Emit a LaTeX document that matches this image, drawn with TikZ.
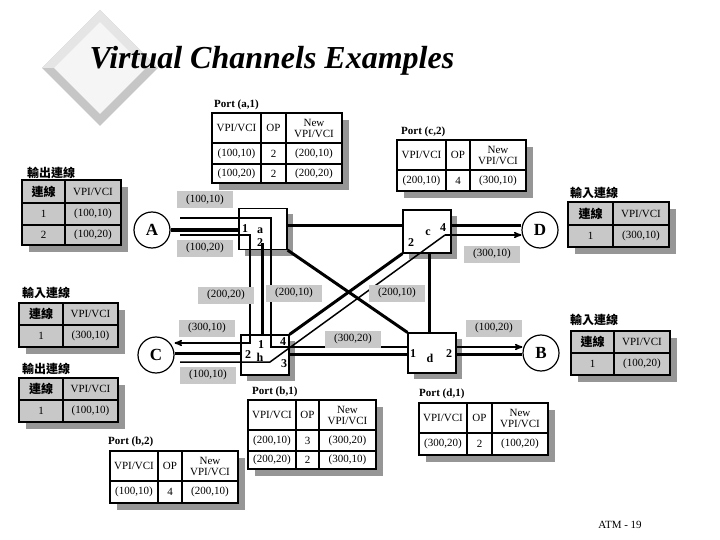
\documentclass[tikz,border=0pt]{standalone}
\usepackage{fontspec}
\setmainfont{Liberation Serif}
\newfontfamily\cjk{Noto Sans CJK TC}
\usepackage{tikz}
\usetikzlibrary{arrows}
\usetikzlibrary{calc}
\usetikzlibrary{positioning}
\definecolor{lgray}{RGB}{200,200,200}
\definecolor{sgray}{RGB}{150,150,150}
\tikzstyle{every node}+=[inner sep=0pt]
\tikzstyle{switch} = [rectangle, draw, line width=1.2pt, fill=white, minimum width=48pt, minimum height=41pt]
\tikzstyle{host} = [circle, draw, line width=1.2pt, fill=white, minimum size=36pt, font=\fontsize{17}{17}\selectfont\bfseries]
\tikzstyle{tag} = [fill=lgray, minimum width=56pt, minimum height=17pt, font=\fontsize{11}{12}\selectfont]
\tikzstyle{port} = [font=\fontsize{12}{12}\selectfont\bfseries]
\tikzstyle{heavy} = [draw, line width=3pt]
\tikzstyle{light} = [draw, line width=1.5pt]
\tikzstyle{line} = [draw, line width=1.5pt, -stealth']
\tikzstyle{celltxt} = [font=\fontsize{11}{11}\selectfont, align=center]
\tikzstyle{title} = [font=\fontsize{11}{12}\selectfont\bfseries, anchor=south west]
\tikzstyle{ctitle} = [font=\fontsize{12}{12}\selectfont\cjk\bfseries, anchor=south west]
% one table cell: [fill] x1 y1 x2 y2 name text
\newcommand{\tcell}[7][white]{\draw[line width=1.5pt, fill=#1] (#2,#3) rectangle (#4,#5);
  \node[celltxt] (#6) at ($(#2,#3)!0.5!(#4,#5)$) {#7};}
\newcommand{\tshade}[4]{\fill[sgray] (#1+7,#2+7) rectangle (#3+7,#4+7);}
\newcommand{\hd}{\cjk\bfseries\fontsize{12}{12}\selectfont 連線}
\begin{document}
\begin{tikzpicture}[x=1pt, y=-1pt]
  \useasboundingbox (0,0) rectangle (720,540);
  % Logo and title
  \fill[gray!45] (100,10) -- (158,68) -- (100,126) -- (42,68) -- cycle;
  \fill[gray!20] (100,10) -- (158,68) -- (146,68) -- (100,22) -- (54,68) -- (42,68) -- cycle;
  \fill[gray!8] (100,22) -- (146,68) -- (100,114) -- (54,68) -- cycle;
  \node[font=\fontsize{32}{34}\selectfont\bfseries\itshape] (head) at (272,61) {Virtual Channels Examples};
  % Switches and hosts
  \fill[sgray] (245,214) rectangle (293,256);
  \fill[sgray] (409,216) rectangle (457,259);
  \fill[sgray] (247,341) rectangle (295,381);
  \fill[sgray] (414,339) rectangle (462,379);
  \node[switch] (a) at (263,229) {};
  \node[switch, minimum height=43pt] (c) at (427,231.5) {};
  \node[switch, minimum height=40pt] (b) at (265,355) {};
  \node[switch, minimum height=40pt] (d) at (432,353) {};
  \node[host] (A) at (152,230) {A};
  \node[host] (D) at (540,230) {D};
  \node[host] (C) at (156,355) {C};
  \node[host] (B) at (541,353) {B};
  % Heavy links
  \path[heavy] (A.east) -- (A.east -| a.west);
  \path[heavy] (a.east |- 0,226) -- (c.west |- 0,226);
  \path[heavy] (c.east |- 0,226) -- (D.west |- 0,226);
  \path[heavy] (a.south east) -- (d.north west);
  \path[heavy] (c.south west) -- (b.north east);
  \path[heavy] (262,243) -- (262,335);
  \path[heavy] (429,253) -- (429,333);
  \path[heavy] (C.east |- 0,353) -- (b.west |- 0,353);
  \path[heavy] (b.east |- 0,354) -- (d.west |- 0,354);
  \path[heavy] (d.east |- 0,354) -- (B.west |- 0,354);
  % Virtual channels
  \path[light] (180,218) -- (271,218) -- (271,347) -- (d.west |- 0,347);
  \path[line] (d.east |- 0,347) -- (B.west |- 0,347);
  \path[line] (180,235) -- (250,235) -- (250,343) -- (C.east |- 0,343);
  \path[light] (180,362) -- (270,362) -- (445,235);
  \path[line] (445,235) -- (D.west |- 0,235);
  % Port numbers
  \node[port] (a1) at (245,229) {1};
  \node[port] (an) at (260,231) {a};
  \node[port] (a2) at (260,243) {2};
  \node[port] (cn) at (428,233) {c};
  \node[port] (c4) at (443,228) {4};
  \node[port] (c2) at (411,243) {2};
  \node[port] (b1) at (261,345) {1};
  \node[port] (b4) at (283,342) {4};
  \node[port] (b2) at (248,355) {2};
  \node[port] (bn) at (260,357) {h};
  \node[port] (b3) at (284,364) {3};
  \node[port] (d1) at (413,354) {1};
  \node[port] (dn) at (430,358) {d};
  \node[port] (d2) at (449,354) {2};
  % Channel labels
  \node[tag] (t1) at (205,200) {(100,10)};
  \node[tag] (t2) at (205,248) {(100,20)};
  \node[tag] (t3) at (226,295) {(200,20)};
  \node[tag] (t4) at (294,293) {(200,10)};
  \node[tag] (t5) at (397,293) {(200,10)};
  \node[tag] (t6) at (207,328) {(300,10)};
  \node[tag] (t7) at (208,375) {(100,10)};
  \node[tag] (t8) at (353,339) {(300,20)};
  \node[tag] (t9) at (492,254) {(300,10)};
  \node[tag] (t10) at (494,328) {(100,20)};
  % Port (a,1)
  \node[title] (pa) at (214,110) {Port (a,1)};
  \tshade{212}{113}{342}{183}
  \tcell{212}{113}{261}{143}{pa11}{VPI/VCI}
  \tcell{261}{113}{286}{143}{pa12}{OP}
  \tcell{286}{113}{342}{143}{pa13}{New\\VPI/VCI}
  \tcell{212}{143}{261}{164}{pa21}{(100,10)}
  \tcell{261}{143}{286}{164}{pa22}{2}
  \tcell{286}{143}{342}{164}{pa23}{(200,10)}
  \tcell{212}{164}{261}{183}{pa31}{(100,20)}
  \tcell{261}{164}{286}{183}{pa32}{2}
  \tcell{286}{164}{342}{183}{pa33}{(200,20)}
  % Port (c,2)
  \node[title] (pc) at (401,137) {Port (c,2)};
  \tshade{397}{140}{526}{191}
  \tcell{397}{140}{446}{170}{pc11}{VPI/VCI}
  \tcell{446}{140}{470}{170}{pc12}{OP}
  \tcell{470}{140}{526}{170}{pc13}{New\\VPI/VCI}
  \tcell{397}{170}{446}{191}{pc21}{(200,10)}
  \tcell{446}{170}{470}{191}{pc22}{4}
  \tcell{470}{170}{526}{191}{pc23}{(300,10)}
  % Port (b,1)
  \node[title] (pb) at (252,397) {Port (b,1)};
  \tshade{248}{400}{376}{469}
  \tcell{248}{400}{296}{430}{pb11}{VPI/VCI}
  \tcell{296}{400}{319}{430}{pb12}{OP}
  \tcell{319}{400}{376}{430}{pb13}{New\\VPI/VCI}
  \tcell{248}{430}{296}{451}{pb21}{(200,10)}
  \tcell{296}{430}{319}{451}{pb22}{3}
  \tcell{319}{430}{376}{451}{pb23}{(300,20)}
  \tcell{248}{451}{296}{469}{pb31}{(200,20)}
  \tcell{296}{451}{319}{469}{pb32}{2}
  \tcell{319}{451}{376}{469}{pb33}{(300,10)}
  % Port (b,2)
  \node[title] (pe) at (108,447) {Port (b,2)};
  \tshade{110}{451}{238}{503}
  \tcell{110}{451}{158}{481}{pe11}{VPI/VCI}
  \tcell{158}{451}{182}{481}{pe12}{OP}
  \tcell{182}{451}{238}{481}{pe13}{New\\VPI/VCI}
  \tcell{110}{481}{158}{503}{pe21}{(100,10)}
  \tcell{158}{481}{182}{503}{pe22}{4}
  \tcell{182}{481}{238}{503}{pe23}{(200,10)}
  % Port (d,1)
  \node[title] (pd) at (419,399) {Port (d,1)};
  \tshade{419}{403}{548}{455}
  \tcell{419}{403}{467}{433}{pd11}{VPI/VCI}
  \tcell{467}{403}{492}{433}{pd12}{OP}
  \tcell{492}{403}{548}{433}{pd13}{New\\VPI/VCI}
  \tcell{419}{433}{467}{455}{pd21}{(300,20)}
  \tcell{467}{433}{492}{455}{pd22}{2}
  \tcell{492}{433}{548}{455}{pd23}{(100,20)}
  % Host link tables
  \node[ctitle] (la) at (27,179) {輸出連線};
  \tshade{22}{180}{121}{245}
  \tcell[lgray]{22}{180}{65}{203}{la11}{\hd}
  \tcell[lgray]{65}{180}{121}{203}{la12}{VPI/VCI}
  \tcell[lgray]{22}{203}{65}{225}{la21}{1}
  \tcell[lgray]{65}{203}{121}{225}{la22}{(100,10)}
  \tcell[lgray]{22}{225}{65}{245}{la31}{2}
  \tcell[lgray]{65}{225}{121}{245}{la32}{(100,20)}
  \node[ctitle] (ld) at (570,199) {輸入連線};
  \tshade{568}{202}{669}{247}
  \tcell[lgray]{568}{202}{613}{225}{ld11}{\hd}
  \tcell[lgray]{613}{202}{669}{225}{ld12}{VPI/VCI}
  \tcell[lgray]{568}{225}{613}{247}{ld21}{1}
  \tcell[lgray]{613}{225}{669}{247}{ld22}{(300,10)}
  \node[ctitle] (lc) at (22,299) {輸入連線};
  \tshade{19}{303}{118}{347}
  \tcell[lgray]{19}{303}{63}{325}{lc11}{\hd}
  \tcell[lgray]{63}{303}{118}{325}{lc12}{VPI/VCI}
  \tcell[lgray]{19}{325}{63}{347}{lc21}{1}
  \tcell[lgray]{63}{325}{118}{347}{lc22}{(300,10)}
  \node[ctitle] (lo) at (22,375) {輸出連線};
  \tshade{19}{378}{118}{422}
  \tcell[lgray]{19}{378}{63}{400}{lo11}{\hd}
  \tcell[lgray]{63}{378}{118}{400}{lo12}{VPI/VCI}
  \tcell[lgray]{19}{400}{63}{422}{lo21}{1}
  \tcell[lgray]{63}{400}{118}{422}{lo22}{(100,10)}
  \node[ctitle] (lb) at (570,326) {輸入連線};
  \tshade{571}{331}{670}{375}
  \tcell[lgray]{571}{331}{614}{353}{lb11}{\hd}
  \tcell[lgray]{614}{331}{670}{353}{lb12}{VPI/VCI}
  \tcell[lgray]{571}{353}{614}{375}{lb21}{1}
  \tcell[lgray]{614}{353}{670}{375}{lb22}{(100,20)}
  % Footer
  \node[font=\fontsize{11}{12}\selectfont] (foot) at (620,525) {ATM - 19};
\end{tikzpicture}
\end{document}
